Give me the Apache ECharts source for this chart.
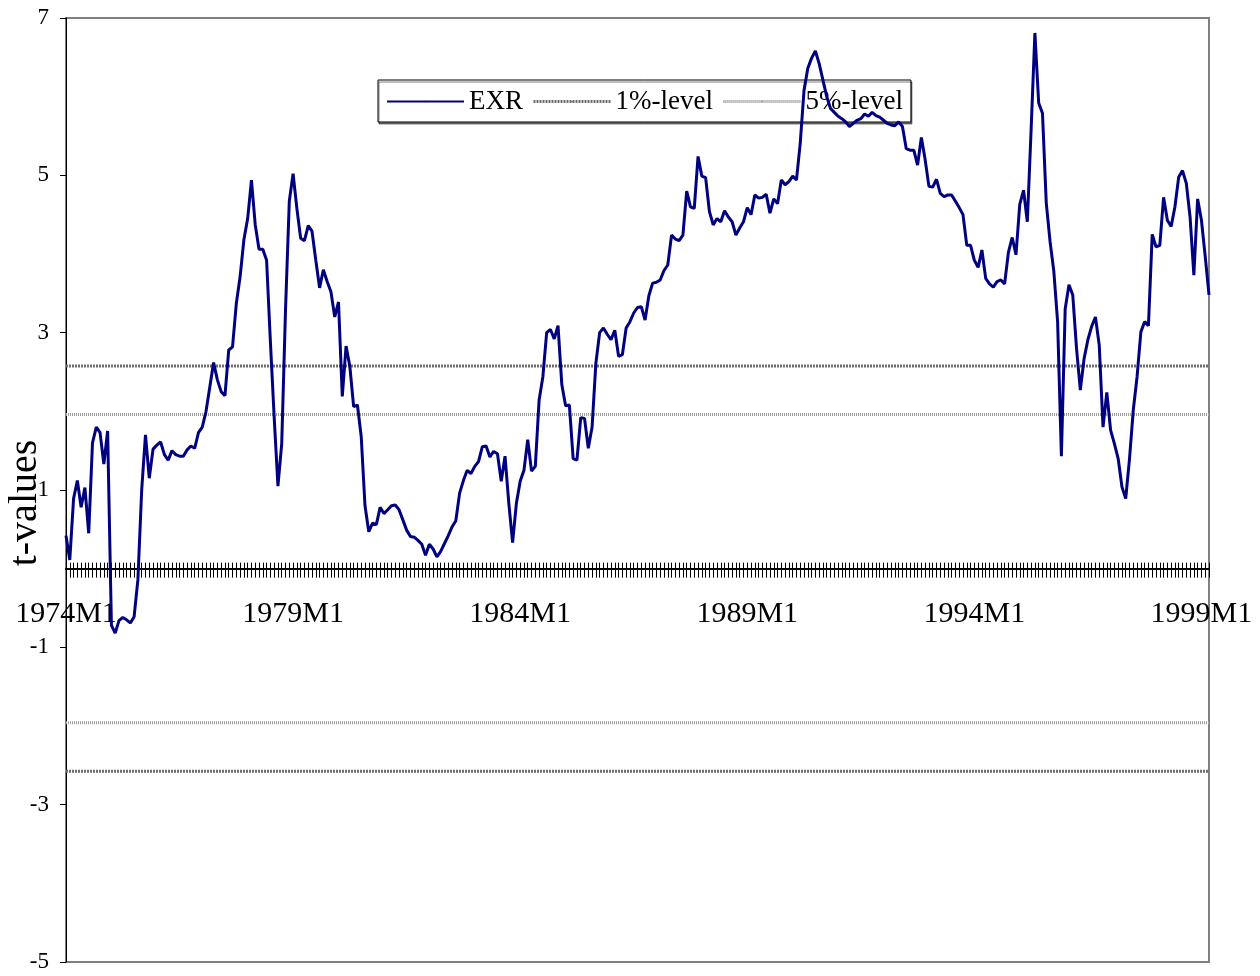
<!DOCTYPE html>
<html>
<head>
<meta charset="utf-8">
<script src="https://cdn.jsdelivr.net/npm/echarts/dist/echarts.min.js"></script>
<style>
html,body{margin:0;padding:0;background:#fff;}
#chart{width:1260px;height:976px;}
</style>
</head>
<body>
<div id="chart"></div>
<script>
// ---- data ----
const startYear = 1974;
const monthCount = 303; // 1974M1 .. 1999M3
const categories = [];
for (let k = 0; k < monthCount; k++) {
  categories.push((startYear + Math.floor(k / 12)) + 'M' + (k % 12 + 1));
}
const exrValues = [
  0.42, 0.11, 0.89, 1.12, 0.78, 1.03, 0.45, 1.60, 1.80, 1.73,
  1.33, 1.75, -0.72, -0.82, -0.66, -0.62, -0.65, -0.69, -0.61, -0.14,
  1.00, 1.70, 1.15, 1.52, 1.57, 1.61, 1.45, 1.38, 1.50, 1.45,
  1.43, 1.43, 1.51, 1.56, 1.53, 1.73, 1.80, 2.00, 2.31, 2.62,
  2.40, 2.25, 2.20, 2.78, 2.82, 3.37, 3.71, 4.18, 4.45, 4.94,
  4.37, 4.06, 4.06, 3.92, 2.89, 1.93, 1.05, 1.59, 3.29, 4.67,
  5.02, 4.58, 4.20, 4.17, 4.36, 4.29, 3.92, 3.57, 3.80, 3.65,
  3.52, 3.20, 3.39, 2.19, 2.83, 2.57, 2.06, 2.08, 1.68, 0.80,
  0.47, 0.58, 0.56, 0.78, 0.70, 0.75, 0.80, 0.81, 0.75, 0.62,
  0.49, 0.41, 0.40, 0.36, 0.31, 0.17, 0.31, 0.25, 0.15, 0.22,
  0.32, 0.42, 0.53, 0.61, 0.96, 1.12, 1.25, 1.21, 1.30, 1.36,
  1.55, 1.56, 1.42, 1.49, 1.46, 1.11, 1.43, 0.83, 0.33, 0.83,
  1.11, 1.25, 1.64, 1.24, 1.30, 2.14, 2.44, 3.00, 3.04, 2.92,
  3.09, 2.34, 2.07, 2.08, 1.40, 1.38, 1.92, 1.91, 1.53, 1.80,
  2.61, 3.00, 3.06, 2.98, 2.91, 3.03, 2.70, 2.72, 3.06, 3.14,
  3.25, 3.32, 3.33, 3.16, 3.47, 3.63, 3.64, 3.67, 3.79, 3.86,
  4.24, 4.19, 4.17, 4.24, 4.80, 4.60, 4.58, 5.24, 4.99, 4.97,
  4.54, 4.37, 4.45, 4.41, 4.55, 4.47, 4.41, 4.24, 4.33, 4.41,
  4.59, 4.50, 4.75, 4.71, 4.72, 4.76, 4.52, 4.70, 4.64, 4.94,
  4.88, 4.92, 4.99, 4.94, 5.41, 6.08, 6.36, 6.49, 6.58, 6.42,
  6.21, 6.00, 5.85, 5.80, 5.75, 5.72, 5.68, 5.62, 5.66, 5.70,
  5.72, 5.78, 5.75, 5.80, 5.76, 5.74, 5.70, 5.66, 5.64, 5.63,
  5.68, 5.62, 5.34, 5.32, 5.32, 5.13, 5.48, 5.20, 4.86, 4.85,
  4.95, 4.77, 4.73, 4.75, 4.75, 4.67, 4.59, 4.50, 4.11, 4.11,
  3.92, 3.83, 4.05, 3.69, 3.62, 3.58, 3.65, 3.67, 3.62, 4.02,
  4.21, 3.99, 4.63, 4.81, 4.41, 5.58, 6.81, 5.92, 5.79, 4.65,
  4.16, 3.78, 3.14, 1.43, 3.30, 3.61, 3.48, 2.80, 2.27, 2.67,
  2.91, 3.08, 3.20, 2.84, 1.80, 2.24, 1.76, 1.59, 1.40, 1.04,
  0.89, 1.40, 2.02, 2.44, 3.01, 3.14, 3.09, 4.25, 4.09, 4.11,
  4.72, 4.43, 4.35, 4.60, 4.98, 5.06, 4.90, 4.47, 3.73, 4.70,
  4.43, 3.97, 3.48
];
const criticalOnePct = 2.576;
const criticalFivePct = 1.96;
const onePctUpper = categories.map(() => criticalOnePct);
const onePctLower = categories.map(() => -criticalOnePct);
const fivePctUpper = categories.map(() => criticalFivePct);
const fivePctLower = categories.map(() => -criticalFivePct);
const yTicks = { min: -5, max: 7, interval: 2 };

// ---- chart ----
const FONT = 'Liberation Serif';
const W = 1260, H = 976;
const gridBox = { left: 66, right: 51, top: 18, bottom: 14, outerBoundsMode: 'none', containLabel: false };
// the category axis crosses the value axis at 0: shift it up from the grid bottom accordingly
const gridHeight = H - gridBox.top - gridBox.bottom;
const zeroOffset = -gridHeight * (0 - yTicks.min) / (yTicks.max - yTicks.min);

const chart = echarts.init(document.getElementById('chart'), null, { renderer: 'canvas' });
const oneStyle = { color: '#6e6e6e', width: 3, type: [2, 1] };
const fiveStyle = { color: '#a0a0a0', width: 3, type: [1, 1] };
chart.setOption({
  animation: false,
  backgroundColor: '#fff',
  textStyle: { fontFamily: FONT, color: '#000' },
  grid: [
    Object.assign({ show: true, borderColor: '#808080', borderWidth: 2, backgroundColor: 'transparent' }, gridBox),
    Object.assign({ show: false }, gridBox)
  ],
  legend: {
    left: 378, top: 80,
    padding: [8, 8, 7, 8],
    backgroundColor: '#fff', borderColor: '#000', borderWidth: 1,
    shadowColor: 'rgba(0,0,0,0.5)', shadowOffsetX: 1, shadowOffsetY: 2,
    itemWidth: 77, itemHeight: 2, itemGap: 9,
    textStyle: { fontFamily: FONT, fontSize: 27, color: '#000' },
    data: [
      { name: 'EXR' },
      { name: '1%-level', lineStyle: { color: '#6e6e6e', width: 3, type: [2, 1] } },
      { name: '5%-level', lineStyle: { color: '#8c8c8c', width: 3, type: [1, 1] }, itemStyle: { color: '#8c8c8c' } }
    ]
  },
  xAxis: [{
    gridIndex: 0, type: 'category', data: categories, boundaryGap: false,
    position: 'bottom', offset: zeroOffset,
    axisLine: { onZero: false, lineStyle: { color: '#000', width: 2 } },
    axisTick: { show: true, interval: 0, inside: false, length: 9, lineStyle: { color: '#000', width: 1 } },
    axisLabel: { interval: 59, margin: 30, fontFamily: FONT, fontSize: 30, color: '#000' },
    splitLine: { show: false }
  }, {
    gridIndex: 1, type: 'category', data: categories, boundaryGap: false,
    position: 'bottom', offset: zeroOffset,
    axisLine: { onZero: false, lineStyle: { color: '#000', width: 2 } },
    axisTick: { show: true, interval: 0, inside: true, length: 6, lineStyle: { color: '#000', width: 1 } },
    axisLabel: { show: false },
    splitLine: { show: false }
  }],
  yAxis: [{
    gridIndex: 0, type: 'value', min: yTicks.min, max: yTicks.max, interval: yTicks.interval,
    name: 't-values', nameLocation: 'middle', nameGap: 21, nameRotate: 90, nameMoveOverlap: false,
    nameTextStyle: { fontFamily: FONT, fontSize: 40, color: '#000', padding: [0, 26, 0, 0] },
    axisLine: { show: true, lineStyle: { color: '#000', width: 1 } },
    axisTick: { show: true, inside: false, length: 6, lineStyle: { color: '#000' } },
    axisLabel: { margin: 17, fontFamily: FONT, fontSize: 23, color: '#000' },
    splitLine: { show: false }
  }, {
    gridIndex: 1, type: 'value', min: yTicks.min, max: yTicks.max, interval: yTicks.interval,
    show: false, splitLine: { show: false }
  }],
  series: [
    { name: 'EXR', type: 'line', xAxisIndex: 0, yAxisIndex: 0, data: exrValues, showSymbol: false, symbol: 'none',
      lineStyle: { color: '#000080', width: 3 }, itemStyle: { color: '#000080' }, z: 5 },
    { name: '1%-level', type: 'line', data: onePctUpper, symbol: 'none', lineStyle: oneStyle, itemStyle: { color: '#6e6e6e' }, z: 3 },
    { name: '1%-level', type: 'line', data: onePctLower, symbol: 'none', lineStyle: oneStyle, itemStyle: { color: '#6e6e6e' }, z: 3 },
    { name: '5%-level', type: 'line', data: fivePctUpper, symbol: 'none', lineStyle: fiveStyle, itemStyle: { color: '#a0a0a0' }, z: 3 },
    { name: '5%-level', type: 'line', data: fivePctLower, symbol: 'none', lineStyle: fiveStyle, itemStyle: { color: '#a0a0a0' }, z: 3 }
  ]
});
</script>
</body>
</html>
